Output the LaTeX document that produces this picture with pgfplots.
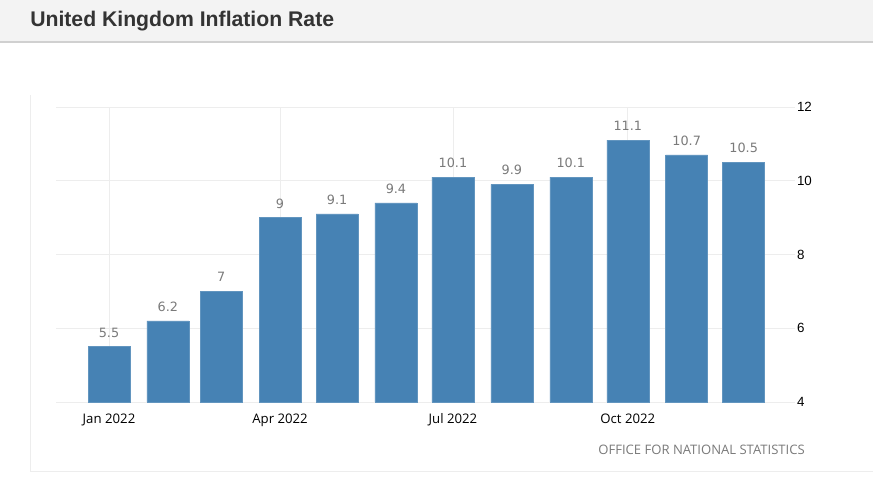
\documentclass[border=0pt]{standalone}
\usepackage{pgfplots}
\pgfplotsset{compat=1.18}
\usepackage{fontspec}
\setmainfont{Liberation Sans}
\newfontfamily\opensans{Open Sans}
\newfontfamily\dejavu{DejaVu Sans}
\definecolor{barblue}{HTML}{4682B4}
\definecolor{gridc}{HTML}{EDEDED}
\definecolor{labgray}{HTML}{7A7A7A}
\definecolor{titlebg}{HTML}{F3F3F3}
\definecolor{titleline}{HTML}{D0D0D0}
\definecolor{titletext}{HTML}{333333}
\begin{document}
\begin{tikzpicture}
\path[use as bounding box] (0,0) rectangle (654.75pt,363pt);
\fill[titlebg] (0,331.5pt) rectangle (654.75pt,363pt);
\draw[titleline, line width=0.8pt] (0,331.5pt) -- (654.75pt,331.5pt);
\draw[gridc, line width=0.6pt] (22.5pt,291.75pt) -- (22.5pt,9.75pt) -- (660pt,9.75pt);
\node[anchor=west, text=titletext, font=\bfseries\fontsize{15.9}{18}\selectfont, inner sep=0pt] at (22.5pt,347.5pt) {United Kingdom Inflation Rate};
\node[anchor=east, text=labgray, font=\opensans\fontsize{9.8}{11}\selectfont, inner sep=0pt] at (603.75pt,25.5pt) {OFFICE FOR NATIONAL STATISTICS};
\begin{axis}[
  at={(42pt,61.5pt)}, anchor=south west,
  scale only axis, width=554.25pt, height=221.25pt,
  xmin=-27.9, xmax=361,
  ymin=4, ymax=12,
  ytick={4,6,8,10,12},
  yticklabel pos=right,
  xtick={0,90,181,273},
  xticklabels={Jan 2022,Apr 2022,Jul 2022,Oct 2022},
  axis line style={draw=none},
  tick style={draw=none},
  grid=major,
  major grid style={gridc, line width=0.6pt},
  /pgf/number format/assume math mode=true,
  yticklabel style={font=\fontsize{10}{12}\selectfont, text=black, xshift=-2pt},
  xticklabel style={font=\opensans\fontsize{9.9}{12}\selectfont, text=black, yshift=-1pt},
  ybar, bar width=31.5pt,
  clip=false,
  nodes near coords,
  every node near coord/.append style={font=\dejavu\fontsize{9.6}{11}\selectfont, text=labgray, yshift=3.5pt},
]
\addplot[fill=barblue, draw=barblue!85!white, line width=0.4pt] coordinates {
 (0,5.5) (31,6.2) (59,7) (90,9) (120,9.1) (151,9.4)
 (181,10.1) (212,9.9) (243,10.1) (273,11.1) (304,10.7) (334,10.5)
};
\end{axis}
\end{tikzpicture}
\end{document}
